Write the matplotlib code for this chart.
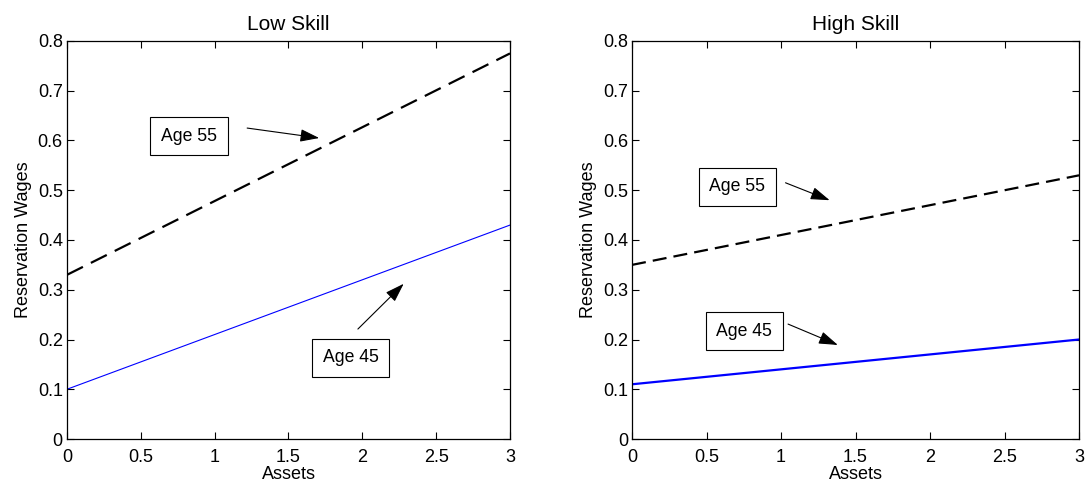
import matplotlib.pyplot as plt
import numpy as np

plt.rcParams['font.family'] = ['Liberation Sans', 'DejaVu Sans']
plt.rcParams['font.size'] = 13

# data
assets = [0, 3]
low_age55 = [0.33, 0.775]
low_age45 = [0.10, 0.43]
high_age55 = [0.35, 0.53]
high_age45 = [0.11, 0.20]

titles = ['Low Skill', 'High Skill']
xticks = [0, 0.5, 1, 1.5, 2, 2.5, 3]
xticklabels = ['0', '0.5', '1', '1.5', '2', '2.5', '3']
yticks = [0, 0.1, 0.2, 0.3, 0.4, 0.5, 0.6, 0.7, 0.8]
yticklabels = ['0', '0.1', '0.2', '0.3', '0.4', '0.5', '0.6', '0.7', '0.8']

fig = plt.figure(figsize=(10.86, 4.88), dpi=100)
ax1 = fig.add_axes([0.0617, 0.1004, 0.4079, 0.8156])
ax2 = fig.add_axes([0.5820, 0.1004, 0.4116, 0.8156])


def style(ax, title):
    ax.set_xlim(0, 3)
    ax.set_ylim(0, 0.8)
    ax.set_xticks(xticks)
    ax.set_xticklabels(xticklabels)
    ax.set_yticks(yticks)
    ax.set_yticklabels(yticklabels)
    ax.tick_params(direction='in', top=True, right=True, length=5, width=0.8, labelsize=13)
    ax.tick_params(axis='x', pad=7)
    ax.tick_params(axis='y', pad=3)
    ax.set_title(title, fontsize=15, pad=8)
    ax.set_xlabel('Assets', fontsize=13, labelpad=0)
    ax.set_ylabel('Reservation Wages', fontsize=13, labelpad=4)
    for s in ax.spines.values():
        s.set_linewidth(0.9)


box = dict(boxstyle='square,pad=0.6', fc='white', ec='black', lw=0.8)
arrow = dict(arrowstyle='-|>,head_length=0.9,head_width=0.3', color='black', lw=0.8,
             shrinkA=0, shrinkB=0)

ax1.plot(assets, low_age55, color='black', lw=1.6, dashes=(8, 4))
ax1.plot(assets, low_age45, color='blue', lw=0.8)
style(ax1, titles[0])
ax1.text(0.826, 0.609, 'Age 55', fontsize=12.7, ha='center', va='center', bbox=box)
ax1.annotate('', xy=(1.708, 0.605), xytext=(1.22, 0.625), arrowprops=arrow)
ax1.text(1.92, 0.163, 'Age 45', fontsize=12.7, ha='center', va='center', bbox=box)
ax1.annotate('', xy=(2.28, 0.312), xytext=(1.97, 0.221), arrowprops=arrow)

ax2.plot(assets, high_age55, color='black', lw=1.6, dashes=(6.3, 3.2))
ax2.plot(assets, high_age45, color='blue', lw=1.6)
style(ax2, titles[1])
ax2.text(0.705, 0.507, 'Age 55', fontsize=12.7, ha='center', va='center', bbox=box)
ax2.annotate('', xy=(1.326, 0.480), xytext=(1.03, 0.515), arrowprops=arrow)
ax2.text(0.753, 0.217, 'Age 45', fontsize=12.7, ha='center', va='center', bbox=box)
ax2.annotate('', xy=(1.381, 0.189), xytext=(1.047, 0.231), arrowprops=arrow)

fig.savefig('out.png', dpi=100)
